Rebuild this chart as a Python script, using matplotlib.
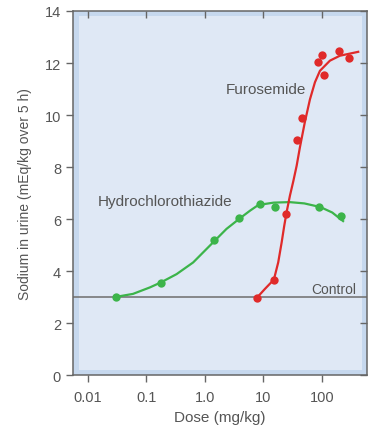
import matplotlib.pyplot as plt
from matplotlib.patches import Rectangle

# measured points
hctz_dose = [0.03, 0.177, 1.45, 3.8, 8.7, 15.5, 89, 210]
hctz_na = [3.0, 3.54, 5.18, 6.04, 6.58, 6.46, 6.46, 6.13]
furo_dose = [7.8, 15.2, 24, 37, 45.6, 85, 100, 107, 195, 290]
furo_na = [2.96, 3.65, 6.2, 9.04, 9.88, 12.05, 12.32, 11.52, 12.48, 12.18]

# fitted curves
hctz_curve_x = [0.031, 0.059, 0.115, 0.18, 0.328, 0.63, 1.48, 2.34, 3.98, 5.9, 8.2,
                15, 28, 50, 94, 150, 230]
hctz_curve_y = [3.01, 3.12, 3.37, 3.57, 3.88, 4.33, 5.17, 5.62, 6.03, 6.32, 6.54,
                6.63, 6.65, 6.6, 6.46, 6.25, 5.92]
furo_curve_x = [7.8, 10.6, 15.1, 17.9, 20.5, 22.7, 24.9, 28.4, 32.4, 37, 42, 51,
                62.4, 76, 92.5, 137, 203, 417]
furo_curve_y = [2.98, 3.31, 3.67, 4.33, 5.1, 5.74, 6.26, 6.9, 7.45, 8.05, 8.75, 9.72,
                10.6, 11.26, 11.7, 12.09, 12.28, 12.43]

xticks = [0.01, 0.1, 1.0, 10, 100]
xticklabels = ['0.01', '0.1', '1.0', '10', '100']
yticks = [0, 2, 4, 6, 8, 10, 12, 14]

txt = '#555555'
plt.rcParams['font.family'] = ['Liberation Sans', 'DejaVu Sans']

fig = plt.figure(figsize=(3.74, 4.27), dpi=100)
ax = fig.add_axes([0.195, 0.1194, 0.786, 0.8525])
ax.set_facecolor('#c6d8ee')
ax.add_patch(Rectangle((0.02, 0.014), 0.963, 0.972, transform=ax.transAxes,
                       facecolor='#dfe8f5', edgecolor='none', zorder=0))

ax.set_xscale('log')
ax.set_xlim(0.00555, 587)
ax.set_ylim(0, 14)

ax.axhline(3, color='#777777', lw=1.2, zorder=1)

ax.plot(hctz_curve_x, hctz_curve_y, color='#3cb44a', lw=1.6, zorder=2,
        solid_joinstyle='round')
ax.plot(hctz_dose, hctz_na, 'o', color='#3cb44a', ms=6, mec='none', zorder=3)
ax.plot(furo_curve_x, furo_curve_y, color='#e02a2a', lw=1.6, zorder=4,
        solid_joinstyle='round')
ax.plot(furo_dose, furo_na, 'o', color='#e02a2a', ms=6, mec='none', zorder=5)

ax.text(11, 11.0, 'Furosemide', fontsize=11, color=txt, ha='center', va='center')
ax.text(0.21, 6.69, 'Hydrochlorothiazide', fontsize=11, color=txt, ha='center', va='center')
ax.text(160, 3.3, 'Control', fontsize=10, color=txt, ha='center', va='center')

ax.set_xticks(xticks)
ax.set_xticklabels(xticklabels)
ax.minorticks_off()
ax.set_yticks(yticks)
ax.tick_params(axis='both', colors='#666666', labelcolor=txt, labelsize=10.5,
               length=5, width=1)
ax.tick_params(axis='x', pad=6)
ax.tick_params(top=True, right=True, which='major')
for t in ax.xaxis.get_major_ticks():
    t.tick2line.set_marker(3)
for t in ax.yaxis.get_major_ticks():
    t.tick2line.set_marker(0)
for s in ax.spines.values():
    s.set_color('#666666')
    s.set_linewidth(1.1)

ax.set_xlabel('Dose (mg/kg)', fontsize=11, color=txt, labelpad=4)
ax.set_ylabel('Sodium in urine (mEq/kg over 5 h)', fontsize=10, color=txt, labelpad=9)

fig.savefig('out.png', dpi=100)
